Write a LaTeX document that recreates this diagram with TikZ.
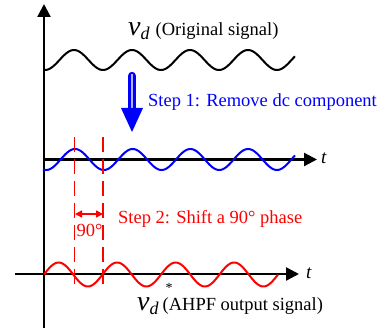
\documentclass[tikz,border=0pt]{standalone}
\usepackage{fontspec}
\setmainfont{Liberation Serif}
\usetikzlibrary{arrows.meta}
\begin{document}
\begin{tikzpicture}[x=1pt,y=-1pt,
  axis/.style={line width=2.3pt,-{Triangle[length=13pt,width=13pt]}},
  wave/.style={line width=2pt},
  lbl/.style={inner sep=0pt,font=\fontsize{18.5}{20}\selectfont},
  phaseline/.style={red,line width=1.6pt,dash pattern=on 15pt off 7pt}]
\useasboundingbox (0,0) rectangle (383,331);
% axes
\coordinate (vb) at (44,328);
\coordinate (vt) at (44,4);
\draw[axis] (vb) -- (vt);
\coordinate (b1) at (43,159.5);
\coordinate (b2) at (317,159.5);
\draw[axis] (b1) -- (b2);
\coordinate (r1) at (15,274);
\coordinate (r2) at (299,274);
\draw[axis] (r1) -- (r2);
% waves
\draw[wave,black] plot[domain=44:295,samples=200] (\x,{60-10*cos((\x-74)/58*360)});
\draw[wave,blue] plot[domain=43:295,samples=200] (\x,{159.5-10.5*cos((\x-75)/57.7*360)});
\draw[wave,red] plot[domain=44:278,samples=200] (\x,{274.5-12*sin((\x-44)/58.5*360)});
% dashed phase lines
\coordinate (d1t) at (74.5,137);
\coordinate (d1b) at (74.5,288);
\coordinate (d2t) at (103,137);
\coordinate (d2b) at (103,288);
\draw[phaseline] (d1t) -- (d1b);
\draw[phaseline] (d2t) -- (d2b);
\coordinate (pa) at (75,214);
\coordinate (pb) at (103,214);
\draw[red,line width=1.6pt,{Triangle[length=7pt,width=7pt]}-{Triangle[length=7pt,width=7pt]}] (pa) -- (pb);
\node[lbl,text=red,anchor=base] (deg) at (89.5,237) {90°};
% blue step arrow
\coordinate (s1) at (132,76);
\coordinate (s2) at (132,110);
\draw[blue,line width=8.4pt,line cap=round] (s1) -- (s2);
\draw[white!70!blue,line width=2.6pt] (132,74) -- (s2);
\fill[blue] (121,108) -- (143,108) -- (132,132) -- cycle;
% labels
\node[lbl,anchor=base west] (orig) at (128,36) {{\fontsize{28}{28}\selectfont\itshape v}\raisebox{-4pt}{\fontsize{18}{18}\selectfont\itshape d}\hspace{6pt}(Original signal)};
\node[lbl,anchor=base west,text=blue] (step1) at (148,107) {Step 1: Remove dc component};
\node[lbl,anchor=base west,text=red] (step2) at (118,224) {Step 2: Shift a 90° phase};
\node[lbl,anchor=base west] (t1) at (321,164) {\fontsize{19}{19}\selectfont\itshape t};
\node[lbl,anchor=base west] (t2) at (306,279) {\fontsize{19}{19}\selectfont\itshape t};
\node[lbl,anchor=base west] (out) at (137,310) {{\fontsize{28}{28}\selectfont\itshape v}\raisebox{-4pt}{\fontsize{18}{18}\selectfont\itshape d}\hspace{4pt}(AHPF output signal)};
\node[inner sep=0pt,anchor=base,font=\fontsize{14}{14}\selectfont] (ast) at (169,292.5) {*};
\end{tikzpicture}
\end{document}
